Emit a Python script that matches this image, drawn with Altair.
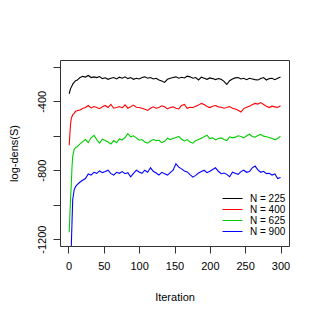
import altair as alt
import pandas as pd

iterations = [1, 2, 3, 4, 5, 6, 8, 10, 12] + list(range(16, 301, 4))

n225 = [-356, -340, -325, -318, -310, -300, -290, -280, -278,
        -263, -255, -259, -250, -262, -258, -262, -256, -268, -263, -272, -266,
        -262, -270, -260, -266, -258, -268, -262, -272, -266, -270, -262, -258,
        -266, -262, -270, -266, -276, -282, -290, -272, -266, -262, -258, -266,
        -260, -264, -254, -258, -266, -262, -276, -260, -266, -272, -264, -268,
        -274, -268, -272, -284, -302, -280, -270, -264, -262, -270, -266, -274,
        -266, -270, -274, -276, -268, -262, -276, -268, -266, -274, -266, -259]

n400 = [-655, -590, -530, -500, -488, -478, -470, -458, -455,
        -450, -442, -436, -424, -438, -430, -436, -443, -432, -424, -436, -418,
        -440, -436, -430, -438, -420, -440, -432, -422, -434, -436, -440, -446,
        -453, -440, -432, -440, -436, -426, -432, -444, -436, -432, -440, -444,
        -424, -418, -440, -434, -436, -428, -422, -412, -418, -430, -436, -428,
        -424, -432, -434, -440, -436, -430, -440, -444, -452, -462, -442, -434,
        -428, -420, -412, -416, -407, -418, -428, -436, -428, -432, -436, -426]

n625 = [-1160, -1060, -960, -880, -780, -720, -680, -668, -665,
        -648, -634, -622, -640, -612, -598, -622, -642, -620, -628, -636, -648,
        -628, -640, -618, -624, -610, -588, -606, -600, -612, -626, -622, -636,
        -643, -630, -622, -628, -626, -640, -632, -614, -622, -616, -610, -604,
        -620, -630, -622, -636, -643, -628, -622, -614, -606, -597, -616, -612,
        -624, -616, -612, -622, -628, -606, -612, -608, -600, -604, -612, -600,
        -591, -604, -608, -598, -592, -602, -606, -610, -616, -622, -616, -602]

n900 = [-1480, -1400, -1320, -1240, -1100, -970, -915, -895, -885,
        -870, -858, -848, -822, -828, -812, -818, -804, -814, -808, -800, -820,
        -828, -812, -818, -808, -820, -814, -838, -818, -800, -810, -818, -800,
        -812, -786, -806, -816, -828, -812, -820, -828, -814, -800, -762, -782,
        -792, -804, -810, -826, -840, -830, -816, -808, -800, -814, -806, -796,
        -786, -806, -820, -816, -824, -838, -812, -818, -824, -808, -800, -812,
        -808, -786, -776, -798, -812, -806, -820, -818, -828, -822, -848, -842]

labels = ["N = 225", "N = 400", "N = 625", "N = 900"]
colors = ["#000000", "#FF0000", "#00CD00", "#0000FF"]
x_ticks = [0, 50, 100, 150, 200, 250, 300]
y_ticks = [-1200, -1000, -800, -600, -400, -200]

rows = []
for lab, vals in zip(labels, [n225, n400, n625, n900]):
    for it, v in zip(iterations, vals):
        rows.append({"iter": it, "value": v, "series": lab})
df = pd.DataFrame(rows)

FONT = "Liberation Sans"
AX = "#333333"

chart = alt.Chart(df).mark_line(clip=True, strokeWidth=1.1).encode(
    x=alt.X("iter:Q",
            scale=alt.Scale(domain=[-12, 312], nice=False, zero=False),
            axis=alt.Axis(values=x_ticks, title="Iteration", grid=False, domain=False,
                          tickSize=7, tickColor=AX, labelColor="black",
                          labelFont=FONT, labelFontSize=11, labelPadding=7,
                          labelFlush=False, titleFont=FONT, titleFontSize=11,
                          titleFontWeight="normal", titleColor="black", titlePadding=20)),
    y=alt.Y("value:Q",
            scale=alt.Scale(domain=[-1240, -160], nice=False, zero=False),
            axis=alt.Axis(values=y_ticks, title="log-dens(S)", grid=False, domain=False,
                          tickSize=7, tickColor=AX, labelColor="black",
                          labelExpr="datum.value % 400 == 0 ? '' + datum.value : ''",
                          labelAngle=270, labelAlign="center", labelBaseline="bottom",
                          labelFont=FONT, labelFontSize=11, labelPadding=6,
                          labelFlush=False, labelOverlap=False,
                          titleFont=FONT, titleFontSize=11,
                          titleFontWeight="normal", titleColor="black", titlePadding=17)),
    color=alt.Color("series:N",
                    scale=alt.Scale(domain=labels, range=colors),
                    legend=alt.Legend(orient="none", legendX=162, legendY=133, title=None,
                                      symbolType="stroke", symbolSize=400,
                                      symbolStrokeWidth=1, labelFont=FONT,
                                      labelFontSize=10, labelColor="black",
                                      labelOffset=7, rowPadding=0, padding=0,
                                      clipHeight=11)),
).properties(
    width=229, height=186,
    autosize=alt.AutoSizeParams(type="none"),
    padding={"left": 52, "top": 52, "right": 23, "bottom": 66},
).configure_view(stroke=AX, strokeWidth=1)

chart.save("out.html", embed_options={"renderer": "svg", "actions": False})
